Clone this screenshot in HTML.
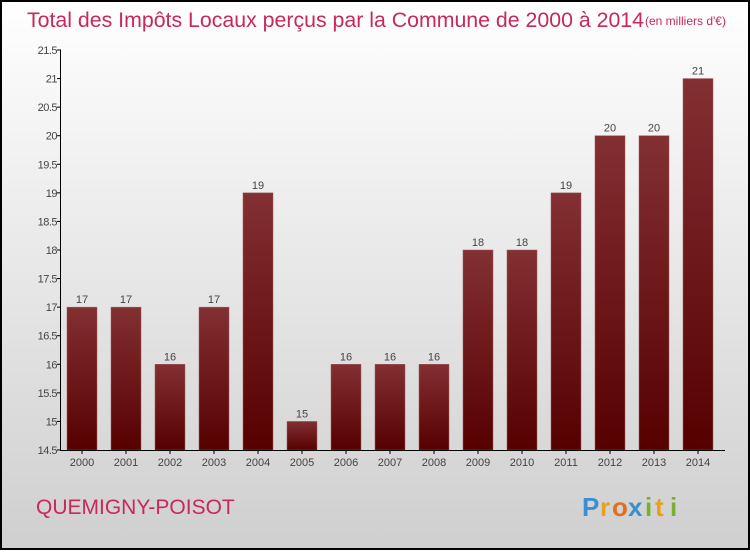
<!DOCTYPE html>
<html><head><meta charset="utf-8"><style>
html,body{margin:0;padding:0}
body{width:750px;height:550px;overflow:hidden;font-family:"Liberation Sans",sans-serif}
</style></head><body>
<svg id="chart" width="750" height="550" xmlns="http://www.w3.org/2000/svg">
<defs>
<linearGradient id="bg" x1="0" y1="0" x2="0" y2="1"><stop offset="0" stop-color="#ffffff"/><stop offset="1" stop-color="#cfcfcf"/></linearGradient>
<linearGradient id="bar" x1="0" y1="0" x2="0" y2="1"><stop offset="0" stop-color="#833033"/><stop offset="1" stop-color="#560000"/></linearGradient>
</defs>
<rect x="1" y="1" width="748" height="548" fill="url(#bg)" stroke="#000" stroke-width="2"/>
<text x="27" y="27" font-size="21" fill="#c8285a" textLength="617" lengthAdjust="spacingAndGlyphs">Total des Impôts Locaux perçus par la Commune de 2000 à 2014</text>
<text x="645" y="25" font-size="12" fill="#c8285a">(en milliers d'€)</text>
<g id="yaxis"></g>
<g id="bars"></g>
<line x1="60.5" y1="50" x2="60.5" y2="450" stroke="#000"/>
<line x1="60" y1="450.5" x2="725" y2="450.5" stroke="#000"/>
<text x="36" y="514" font-size="21" fill="#c8285a">QUEMIGNY-POISOT</text>
<g font-size="26" font-weight="bold">
<text x="582" y="516" fill="#3a8fd0">P</text><text x="600" y="516" fill="#e8a020">r</text><text x="612" y="516" fill="#e07020">o</text><text x="628" y="516" fill="#3a8fd0">x</text><text x="645" y="516" fill="#7ab030">i</text><text x="655" y="516" fill="#e8a020">t</text><text x="670" y="516" fill="#7ab030">i</text>
</g>
</svg>
<script>
const years=["2000","2001","2002","2003","2004","2005","2006","2007","2008","2009","2010","2011","2012","2013","2014"];
const values=[17,17,16,17,19,15,16,16,16,18,18,19,20,20,21];
const yTicks=[14.5,15,15.5,16,16.5,17,17.5,18,18.5,19,19.5,20,20.5,21,21.5];
const NS="http://www.w3.org/2000/svg";
const yMin=14.5,yMax=21.5,topY=50,botY=450;
function y(v){return botY-(v-yMin)/(yMax-yMin)*(botY-topY);}
function x(i){return 82+i*44;}
function mk(t,a,p,txt){const e=document.createElementNS(NS,t);for(const k in a)e.setAttribute(k,a[k]);if(txt!=null)e.textContent=txt;p.appendChild(e);return e;}
const ya=document.getElementById('yaxis');
yTicks.forEach(v=>{
 const l=mk('line',{x1:57,x2:61,y1:y(v),y2:y(v),stroke:'#000'},ya);
 
 
 const t=mk('text',{x:57,y:y(v)+4,'font-size':11,fill:'#444','text-anchor':'end','letter-spacing':'-0.5'},ya,String(v));
 
 
});
const bg=document.getElementById('bars');
values.forEach((v,i)=>{
 const r=mk('rect',{x:x(i)-15,y:y(v),width:30,height:botY-y(v),fill:'url(#bar)',stroke:'#a05a5a','stroke-width':0.5},bg);
 
 
 const t=mk('text',{x:x(i),y:y(v)-4,'font-size':11,fill:'#444','text-anchor':'middle'},bg,String(v));
 
 
 const tl=mk('line',{x1:x(i),x2:x(i),y1:450,y2:454,stroke:'#000'},bg);
 
 
 const xl=mk('text',{x:x(i),y:466,'font-size':11,fill:'#444','text-anchor':'middle'},bg,years[i]);
 
 
});
</script>
</body></html>
